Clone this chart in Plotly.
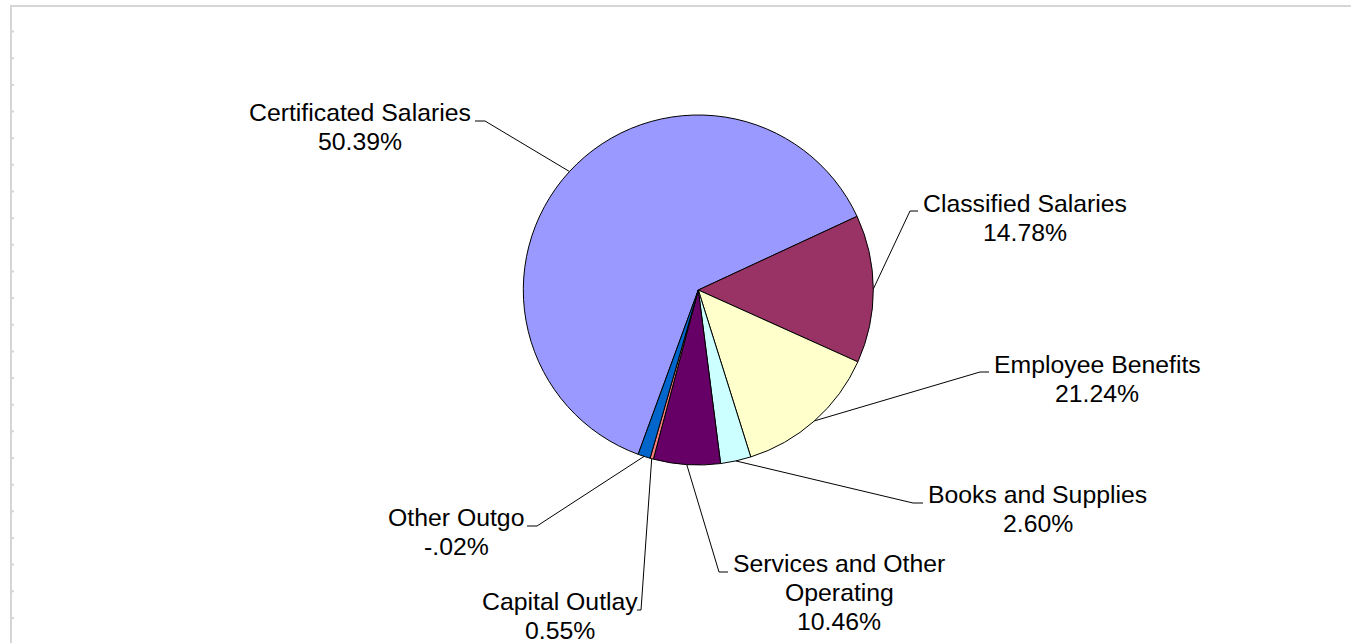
import math
import plotly.graph_objects as go

# ---- data ----
categories = ["Certificated Salaries", "Classified Salaries", "Employee Benefits",
              "Books and Supplies", "Services and Other Operating", "Capital Outlay",
              "Other Outgo"]
slice_shares = [62.51, 13.65, 13.42, 2.81, 6.17, 0.31, 1.14]   # slice sizes as drawn
label_pcts = ["50.39%", "14.78%", "21.24%", "2.60%", "10.46%", "0.55%", "-.02%"]
label_lines = [["Certificated Salaries"], ["Classified Salaries"], ["Employee Benefits"],
               ["Books and Supplies"], ["Services and Other", "Operating"],
               ["Capital Outlay"], ["Other Outgo"]]
colors = ["#9999FF", "#993366", "#FFFFCC", "#CCFFFF", "#660066", "#FF8080", "#0066CC"]

# ---- layout constants (pixels) ----
W, H = 1351, 643
CX, CY, R = 698.3, 290.0, 175.0
START = 200.1
FS = 24.8
LINE_GAP = 29.0
FONT = "Liberation Sans, Arial, sans-serif"

# label placement: (text center x, first baseline y, leader start x, leader elbow x, leader y)
label_pos = [
    (360.0, 121.0, 475.0, 485.0, 121.0),
    (1025.0, 212.0, 918.0, 910.0, 211.0),
    (1097.0, 373.0, 989.0, 980.0, 372.0),
    (1037.5, 503.0, 923.0, 913.0, 503.0),
    (839.0, 572.0, 728.0, 719.0, 572.0),
    (560.0, 610.0, 637.0, 641.0, 610.0),
    (456.0, 526.0, 527.0, 537.0, 526.0),
]


def px(x):
    return x / W


def py(y):
    return 1 - y / H


fig = go.Figure(go.Pie(
    labels=categories, values=slice_shares, sort=False, direction="clockwise",
    rotation=START,
    marker=dict(colors=colors, line=dict(color="black", width=1)),
    textinfo="none", hoverinfo="label", showlegend=False,
    domain=dict(x=[px(CX - R), px(CX + R)], y=[py(CY + R), py(CY - R)]),
))

annotations = []
shapes = []

total = sum(slice_shares)
cum = 0.0
for i, v in enumerate(slice_shares):
    mid = math.radians(START + 360.0 * (cum + v / 2.0) / total)
    cum += v
    ex = CX + R * math.sin(mid)
    ey = CY - R * math.cos(mid)
    tx, ty, lx0, lx1, ly = label_pos[i]
    lines = label_lines[i] + [label_pcts[i]]
    for k, t in enumerate(lines):
        base = ty + k * LINE_GAP
        annotations.append(dict(
            x=px(tx), y=py(base - 0.346 * FS), xref="paper", yref="paper",
            text=t, showarrow=False, xanchor="center", yanchor="middle",
            font=dict(family=FONT, size=FS, color="black")))
    shapes.append(dict(
        type="path", xref="paper", yref="paper",
        path=f"M {px(lx0)} {py(ly)} L {px(lx1)} {py(ly)} L {px(ex)} {py(ey)}",
        line=dict(color="black", width=1)))

# light grey frame with small ticks (left & top)
GREY = "#d6d6d6"
shapes.append(dict(type="line", xref="paper", yref="paper",
                   x0=px(10), x1=1, y0=py(6), y1=py(6), line=dict(color=GREY, width=2)))
shapes.append(dict(type="line", xref="paper", yref="paper",
                   x0=px(11), x1=px(11), y0=py(5), y1=0, line=dict(color=GREY, width=2)))
for k in range(23):
    ty = 31.6 + 26.65 * k
    shapes.append(dict(type="line", xref="paper", yref="paper",
                       x0=px(12), x1=px(14), y0=py(ty), y1=py(ty),
                       line=dict(color=GREY, width=2)))

fig.update_layout(
    width=W, height=H, autosize=False,
    margin=dict(l=0, r=0, t=0, b=0),
    paper_bgcolor="white", plot_bgcolor="white",
    annotations=annotations, shapes=shapes,
    font=dict(family=FONT),
)

fig.write_html(
    "out.html",
    config={"displayModeBar": False},
    post_script="document.body.style.margin='0';document.body.style.overflow='hidden';",
)
